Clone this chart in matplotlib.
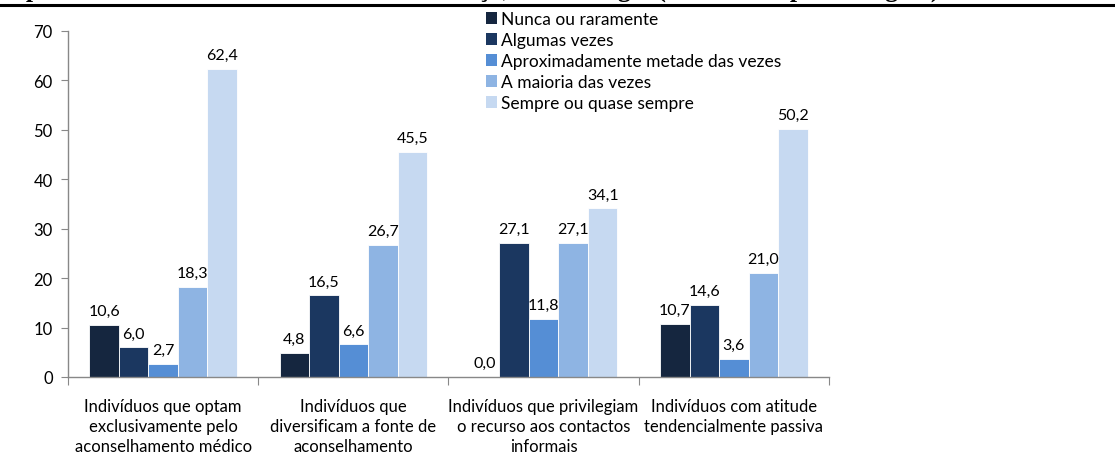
import matplotlib
matplotlib.use("Agg")
import matplotlib.pyplot as plt
from matplotlib.lines import Line2D
from matplotlib.patches import Patch
import numpy as np

categories = [
    "Indivíduos que optam\nexclusivamente pelo\naconselhamento médico",
    "Indivíduos que\ndiversificam a fonte de\naconselhamento",
    "Indivíduos que privilegiam\no recurso aos contactos\ninformais",
    "Indivíduos com atitude\ntendencialmente passiva",
]
series_names = [
    "Nunca ou raramente",
    "Algumas vezes",
    "Aproximadamente metade das vezes",
    "A maioria das vezes",
    "Sempre ou quase sempre",
]
nunca = [10.6, 4.8, 0.0, 10.7]
algumas = [6.0, 16.5, 27.1, 14.6]
metade = [2.7, 6.6, 11.8, 3.6]
maioria = [18.3, 26.7, 27.1, 21.0]
sempre = [62.4, 45.5, 34.1, 50.2]
yticks = [0, 10, 20, 30, 40, 50, 60, 70]
title = "Tipos de atitudes face aos sintomas de doença, em Portugal (valores em percentagem)"

colors = ["#15263f", "#1b3760", "#558ed5", "#8eb4e3", "#c6d9f1"]
series = [nunca, algumas, metade, maioria, sempre]

font = ["Lato", "DejaVu Sans"]
plt.rcParams["font.family"] = font

fig = plt.figure(figsize=(11.15, 4.56), dpi=100)
ax = fig.add_axes([68 / 1115, 1 - 378 / 456, (829 - 68) / 1115, (378 - 32) / 456])

n = len(series)
w = 0.155
x = np.arange(len(categories))
for i, (vals, c, name) in enumerate(zip(series, colors, series_names)):
    pos = x + (i - (n - 1) / 2) * w
    bars = ax.bar(pos, vals, width=w, color=c, label=name, edgecolor="white", linewidth=0.6)
    for b, v in zip(bars, vals):
        ax.annotate(f"{v:.1f}".replace(".", ","), (b.get_x() + b.get_width() / 2, v),
                    xytext=(0, 5), textcoords="offset points", ha="center", va="bottom",
                    fontsize=11.5, color="black")

ax.set_xlim(-0.5, len(categories) - 0.5)
ax.set_ylim(0, 70)
ax.set_yticks(yticks)
ax.set_yticklabels([str(t) for t in yticks], fontsize=12)
ax.set_xticks(np.arange(len(categories) + 1) - 0.5)
ax.set_xticklabels([])
ax.set_xticks(x, minor=True)
ax.set_xticklabels(categories, minor=True, fontsize=12, linespacing=1.32)
ax.tick_params(axis="x", which="minor", length=0, pad=15)
ax.tick_params(axis="x", which="major", length=6, color="#888888")
ax.tick_params(axis="y", length=5, color="#888888", pad=6)
for s in ["top", "right"]:
    ax.spines[s].set_visible(False)
for s in ["left", "bottom"]:
    ax.spines[s].set_color("#888888")
    ax.spines[s].set_linewidth(1.0)

handles = [Patch(facecolor=c, edgecolor="none") for c in colors]
fig.legend(handles, series_names, loc="upper left", bbox_to_anchor=(486 / 1115, 1 - 12 / 456),
           frameon=False, fontsize=12.5, handlelength=0.65, handleheight=0.65,
           handletextpad=0.2, labelspacing=0.29, borderpad=0, borderaxespad=0)

# Cut-off title and rule at top
fig.text(939 / 1115, 1 + 3 / 456, title, ha="right", va="baseline",
         fontsize=18.5, fontweight="bold", family=["Liberation Serif", "DejaVu Serif"])
fig.add_artist(Line2D([0, 1], [1 - 6 / 456, 1 - 6 / 456], transform=fig.transFigure,
                      color="black", linewidth=2.2))

fig.savefig("out.png", dpi=100)
